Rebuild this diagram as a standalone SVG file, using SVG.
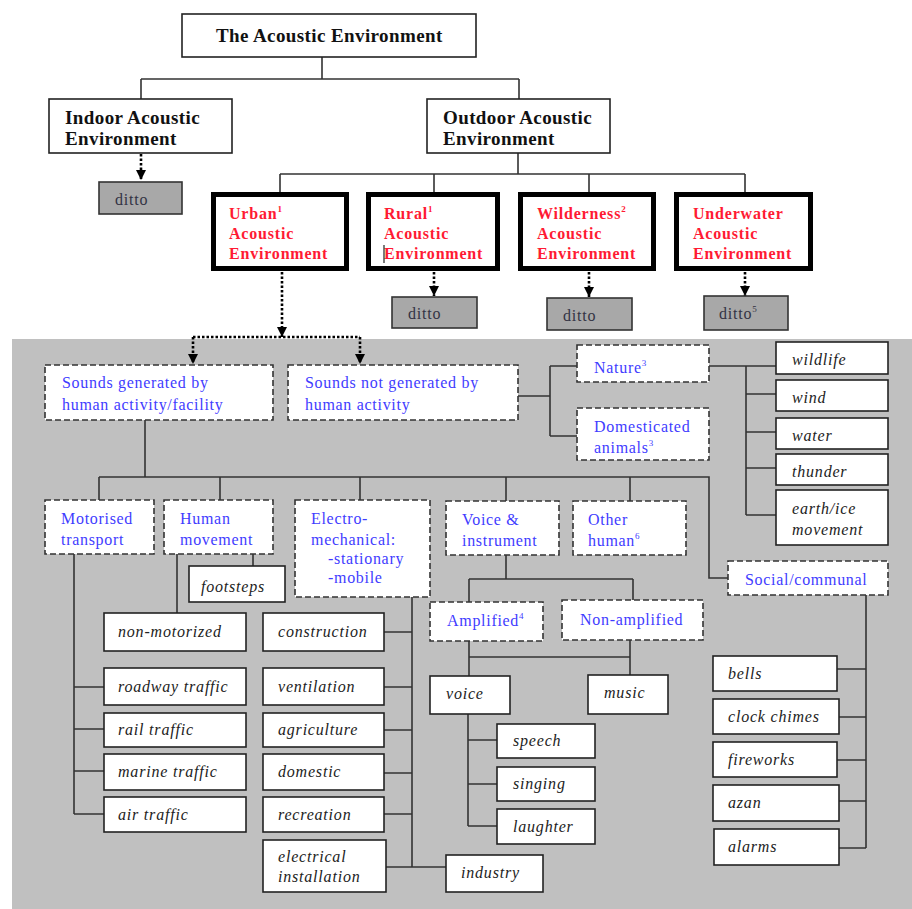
<svg xmlns="http://www.w3.org/2000/svg" width="912" height="909" viewBox="0 0 912 909">
<defs>
<marker id="arr" viewBox="0 0 10 10" refX="10" refY="5" markerWidth="10" markerHeight="10" markerUnits="userSpaceOnUse" orient="auto">
<path d="M0,0 L10,5 L0,10 z" fill="#000"/>
</marker>
<style>
.box{fill:#fff;stroke:#222;stroke-width:1.6}
.thick{fill:#fff;stroke:#000;stroke-width:5}
.ditto{fill:#a8a8a8;stroke:#333;stroke-width:1.6}
.dash{fill:#fff;stroke:#333;stroke-width:1.6;stroke-dasharray:6 3}
.ln{fill:none;stroke:#333;stroke-width:1.6}
.dot{fill:none;stroke:#000;stroke-width:2.6;stroke-dasharray:2.5 2}
text{font-family:"Liberation Serif","Times New Roman",serif}
.h{font-weight:bold;font-size:19px;letter-spacing:0.4px;fill:#111}
.r{font-weight:bold;font-size:16px;letter-spacing:0.8px;fill:#ff1a33}
.b{font-size:16px;letter-spacing:0.7px;fill:#3f3cff}
.i{font-style:italic;font-size:16px;letter-spacing:0.8px;fill:#222}
.d{font-size:16px;letter-spacing:0.8px;fill:#333344}
.sup{font-size:9px;letter-spacing:0}
</style>
</defs>
<rect x="12" y="339" width="900" height="570" fill="#c0c0c0"/>

<g id="connectors">
<path class="ln" d="M322,57 V79 M141,79 H519 M141,79 V99 M519,79 V99"/>
<path class="ln" d="M518,153 V174 M280,174 H745 M280,174 V192 M434,174 V192 M589,174 V192 M745,174 V192"/>
<path class="dot" d="M141,154 V180" marker-end="url(#arr)"/>
<path class="dot" d="M434,272 V296" marker-end="url(#arr)"/>
<path class="dot" d="M589,272 V297" marker-end="url(#arr)"/>
<path class="dot" d="M745,272 V296" marker-end="url(#arr)"/>
<path class="dot" d="M282,272 V337" marker-end="url(#arr)"/>
<path class="dot" d="M193,337 H360"/>
<path class="dot" d="M193,337 V364" marker-end="url(#arr)"/>
<path class="dot" d="M360,337 V364" marker-end="url(#arr)"/>
<path class="ln" d="M518,396 H550 M550,366 V436 M550,366 H577 M550,436 H577"/>
<path class="ln" d="M709,366 H776 M746,366 V515 M746,394 H776 M746,432 H776 M746,468 H776 M746,515 H776"/>
<path class="ln" d="M145,420 V477 M99,477 H709 V578 H728 M99,477 V500 M220,477 V500 M360,477 V500 M506,477 V501 M630,477 V501"/>
<path class="ln" d="M74,554 V814 M74,687 H104 M74,729 H104 M74,771 H104 M74,814 H104"/>
<path class="ln" d="M177,554 V613 M253,554 V566"/>
<path class="ln" d="M412,597 V867 M384,632 H412 M384,687 H412 M384,730 H412 M384,773 H412 M384,814 H412 M386,867 H446"/>
<path class="ln" d="M506,555 V579 M469,579 H633 M469,579 V602 M633,579 V600"/>
<path class="ln" d="M469,641 V676 M469,657 H630 M630,640 V675"/>
<path class="ln" d="M468,714 V826 M468,740 H497 M468,784 H497 M468,826 H497"/>
<path class="ln" d="M866,595 V848 M837,669 H866 M839,717 H866 M837,760 H866 M839,801 H866 M839,848 H866"/>
</g>

<g id="root"><rect class="box" x="182" y="14" width="294" height="43"/><text class="h" x="216" y="42">The Acoustic Environment</text></g>
<g id="indoor"><rect class="box" x="49" y="99" width="183" height="54"/><text class="h" x="65" y="124">Indoor Acoustic</text><text class="h" x="65" y="145">Environment</text></g>
<g id="outdoor"><rect class="box" x="427" y="99" width="183" height="54"/><text class="h" x="443" y="124">Outdoor Acoustic</text><text class="h" x="443" y="145">Environment</text></g>
<g id="ditto-indoor"><rect class="ditto" x="99" y="182" width="83" height="32"/><text class="d" x="115" y="205">ditto</text></g>

<g id="urban"><rect class="thick" x="213.5" y="194.5" width="133" height="74"/><text class="r" x="229" y="219">Urban<tspan class="sup" dy="-7">1</tspan></text><text class="r" x="229" y="239">Acoustic</text><text class="r" x="229" y="259">Environment</text></g>
<g id="rural"><rect class="thick" x="368.5" y="194.5" width="129" height="74"/><text class="r" x="384" y="219">Rural<tspan class="sup" dy="-7">1</tspan></text><text class="r" x="384" y="239">Acoustic</text><text class="r" x="384" y="259">Environment</text><line x1="384" y1="245" x2="384" y2="263" stroke="#222" stroke-width="1.2"/></g>
<g id="wilderness"><rect class="thick" x="520.5" y="194.5" width="133" height="74"/><text class="r" x="537" y="219">Wilderness<tspan class="sup" dy="-7">2</tspan></text><text class="r" x="537" y="239">Acoustic</text><text class="r" x="537" y="259">Environment</text></g>
<g id="underwater"><rect class="thick" x="676.5" y="194.5" width="134" height="74"/><text class="r" x="693" y="219">Underwater</text><text class="r" x="693" y="239">Acoustic</text><text class="r" x="693" y="259">Environment</text></g>

<g id="ditto-rural"><rect class="ditto" x="392" y="297" width="85" height="31"/><text class="d" x="408" y="319">ditto</text></g>
<g id="ditto-wild"><rect class="ditto" x="547" y="298" width="85" height="32"/><text class="d" x="563" y="321">ditto</text></g>
<g id="ditto-under"><rect class="ditto" x="704" y="296" width="84" height="34"/><text class="d" x="719" y="319">ditto<tspan class="sup" dy="-7">5</tspan></text></g>

<g id="generated"><rect class="dash" x="45" y="365" width="228" height="55"/><text class="b" x="62" y="388">Sounds generated by</text><text class="b" x="62" y="410">human activity/facility</text></g>
<g id="not-generated"><rect class="dash" x="288" y="365" width="230" height="55"/><text class="b" x="305" y="388">Sounds not generated by</text><text class="b" x="305" y="410">human activity</text></g>
<g id="nature"><rect class="dash" x="577" y="345" width="132" height="37"/><text class="b" x="594" y="373">Nature<tspan class="sup" dy="-7">3</tspan></text></g>
<g id="domesticated"><rect class="dash" x="577" y="408" width="132" height="52"/><text class="b" x="594" y="432">Domesticated</text><text class="b" x="594" y="453">animals<tspan class="sup" dy="-7">3</tspan></text></g>

<g id="wildlife"><rect class="box" x="776" y="342" width="112" height="32"/><text class="i" x="792" y="365">wildlife</text></g>
<g id="wind"><rect class="box" x="776" y="380" width="112" height="31"/><text class="i" x="792" y="403">wind</text></g>
<g id="water"><rect class="box" x="776" y="418" width="112" height="31"/><text class="i" x="792" y="441">water</text></g>
<g id="thunder"><rect class="box" x="776" y="454" width="112" height="31"/><text class="i" x="792" y="477">thunder</text></g>
<g id="earth"><rect class="box" x="776" y="490" width="112" height="55"/><text class="i" x="792" y="514">earth/ice</text><text class="i" x="792" y="535">movement</text></g>

<g id="motorised"><rect class="dash" x="45" y="500" width="109" height="54"/><text class="b" x="61" y="524">Motorised</text><text class="b" x="61" y="545">transport</text></g>
<g id="human-movement"><rect class="dash" x="164" y="500" width="109" height="54"/><text class="b" x="180" y="524">Human</text><text class="b" x="180" y="545">movement</text></g>
<g id="electro"><rect class="dash" x="295" y="500" width="135" height="97"/><text class="b" x="311" y="524">Electro-</text><text class="b" x="311" y="545">mechanical:</text><text class="b" x="328" y="564">-stationary</text><text class="b" x="328" y="583">-mobile</text></g>
<g id="voice-instrument"><rect class="dash" x="446" y="501" width="113" height="54"/><text class="b" x="462" y="525">Voice &amp;</text><text class="b" x="462" y="546">instrument</text></g>
<g id="other-human"><rect class="dash" x="573" y="501" width="113" height="54"/><text class="b" x="588" y="525">Other</text><text class="b" x="588" y="546">human<tspan class="sup" dy="-7">6</tspan></text></g>
<g id="social"><rect class="dash" x="728" y="561" width="160" height="34"/><text class="b" x="745" y="585">Social/communal</text></g>

<g id="footsteps"><rect class="box" x="189" y="566" width="96" height="36"/><text class="i" x="201" y="592">footsteps</text></g>
<g id="non-motorized"><rect class="box" x="104" y="613" width="142" height="38"/><text class="i" x="118" y="637">non-motorized</text></g>
<g id="roadway"><rect class="box" x="104" y="668" width="142" height="37"/><text class="i" x="118" y="692">roadway traffic</text></g>
<g id="rail"><rect class="box" x="104" y="713" width="142" height="34"/><text class="i" x="118" y="735">rail traffic</text></g>
<g id="marine"><rect class="box" x="104" y="754" width="142" height="36"/><text class="i" x="118" y="777">marine traffic</text></g>
<g id="air"><rect class="box" x="104" y="797" width="142" height="35"/><text class="i" x="118" y="820">air traffic</text></g>

<g id="construction"><rect class="box" x="263" y="613" width="121" height="38"/><text class="i" x="278" y="637">construction</text></g>
<g id="ventilation"><rect class="box" x="263" y="668" width="121" height="37"/><text class="i" x="278" y="692">ventilation</text></g>
<g id="agriculture"><rect class="box" x="263" y="713" width="121" height="34"/><text class="i" x="278" y="735">agriculture</text></g>
<g id="domestic"><rect class="box" x="263" y="754" width="121" height="36"/><text class="i" x="278" y="777">domestic</text></g>
<g id="recreation"><rect class="box" x="263" y="797" width="121" height="35"/><text class="i" x="278" y="820">recreation</text></g>
<g id="electrical"><rect class="box" x="263" y="840" width="123" height="52"/><text class="i" x="278" y="862">electrical</text><text class="i" x="278" y="882">installation</text></g>
<g id="industry"><rect class="box" x="446" y="855" width="97" height="37"/><text class="i" x="461" y="878">industry</text></g>

<g id="amplified"><rect class="dash" x="430" y="602" width="113" height="39"/><text class="b" x="447" y="626">Amplified<tspan class="sup" dy="-7">4</tspan></text></g>
<g id="non-amplified"><rect class="dash" x="562" y="600" width="141" height="40"/><text class="b" x="580" y="625">Non-amplified</text></g>
<g id="voice"><rect class="box" x="430" y="676" width="80" height="38"/><text class="i" x="446" y="699">voice</text></g>
<g id="music"><rect class="box" x="588" y="675" width="80" height="39"/><text class="i" x="604" y="698">music</text></g>
<g id="speech"><rect class="box" x="497" y="724" width="98" height="34"/><text class="i" x="513" y="746">speech</text></g>
<g id="singing"><rect class="box" x="497" y="767" width="98" height="34"/><text class="i" x="513" y="789">singing</text></g>
<g id="laughter"><rect class="box" x="497" y="809" width="98" height="35"/><text class="i" x="513" y="832">laughter</text></g>

<g id="bells"><rect class="box" x="713" y="656" width="124" height="35"/><text class="i" x="728" y="679">bells</text></g>
<g id="clock"><rect class="box" x="713" y="699" width="126" height="35"/><text class="i" x="728" y="722">clock chimes</text></g>
<g id="fireworks"><rect class="box" x="713" y="742" width="124" height="35"/><text class="i" x="728" y="765">fireworks</text></g>
<g id="azan"><rect class="box" x="713" y="785" width="126" height="36"/><text class="i" x="728" y="808">azan</text></g>
<g id="alarms"><rect class="box" x="714" y="829" width="125" height="36"/><text class="i" x="728" y="852">alarms</text></g>
</svg>
